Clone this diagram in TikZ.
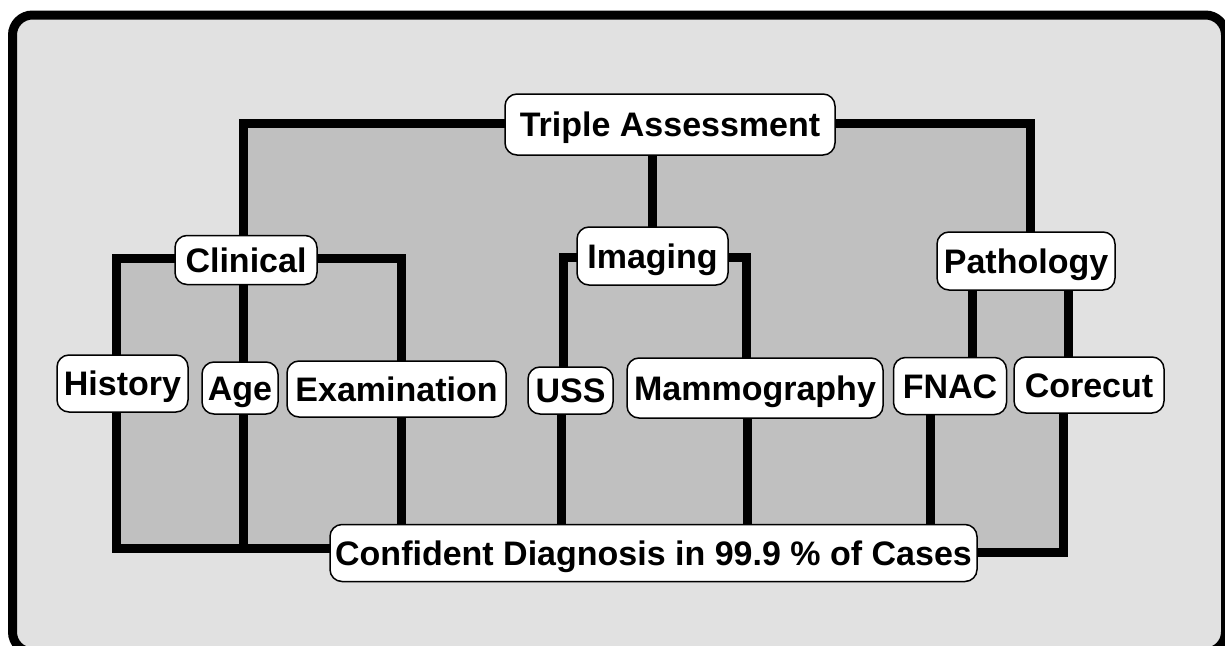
\documentclass[tikz,border=0pt]{standalone}
\usepackage{fontspec}
\setmainfont{Liberation Sans}
\pgfdeclarelayer{background}
\pgfsetlayers{background,main}
\definecolor{bglight}{HTML}{E1E1E1}
\definecolor{bgdark}{HTML}{C0C0C0}
\tikzset{
  box/.style={draw=black, fill=white, line width=1.5pt, rounded corners=12pt,
    inner sep=0pt, text height=24.3pt, text depth=0pt,
    font=\fontsize{34}{40}\selectfont\bfseries},
  conn/.style={draw=black, line width=9pt, line join=miter}
}
\begin{document}
\begin{tikzpicture}[x=1pt,y=-1pt]
\useasboundingbox (0,0) rectangle (1225,645);
\clip (0,0) rectangle (1225,645);
% nodes
\node[box, minimum width=330pt, minimum height=61pt] (triple) at (670,124.5) {Triple Assessment};
\node[box, minimum width=142pt, minimum height=49pt] (clin) at (246,260) {Clinical};
\node[box, minimum width=151pt, minimum height=58pt] (imag) at (652.5,256) {Imaging};
\node[box, minimum width=178pt, minimum height=58pt] (path) at (1026,261) {Pathology};
\node[box, minimum width=131pt, minimum height=57pt] (hist) at (122.5,383.5) {History};
\node[box, minimum width=76pt, minimum height=52pt] (age) at (240,388) {Age};
\node[box, minimum width=219pt, minimum height=56pt] (exam) at (396.5,389) {Examination};
\node[box, minimum width=85pt, minimum height=47pt] (uss) at (570.5,390.5) {USS};
\node[box, minimum width=256pt, minimum height=60pt] (mam) at (755,388) {Mammography};
\node[box, minimum width=113pt, minimum height=57pt] (fnac) at (950,386) {FNAC};
\node[box, minimum width=150pt, minimum height=56pt] (core) at (1089,385) {Corecut};
\node[box, minimum width=647pt, minimum height=57pt] (conf) at (653.5,553) {Confident Diagnosis in 99.9 \% of Cases};
\begin{pgfonlayer}{background}
  \draw[line width=9pt, fill=bglight, rounded corners=20pt] (12.5,15) rectangle (1225.5,652);
  \fill[bgdark] (243,123) -- (1030,123) -- (1030,261) -- (1068,261) -- (1068,385)
     -- (1063,385) -- (1063,552) -- (700,552) -- (700,548) -- (116,548) -- (116,258)
     -- (243,258) -- cycle;
  % top level
  \draw[conn] (243,0 |- clin) -- (243,123) -- (triple |- 0,123);
  \draw[conn] (triple |- 0,123) -- (1030,123) -- (1030,0 |- path);
  \draw[conn] (652,0 |- triple) -- (652,0 |- imag);
  % clinical
  \draw[conn] (116,0 |- hist) -- (116,258) -- (clin |- 0,258);
  \draw[conn] (clin |- 0,258) -- (401,258) -- (401,0 |- exam);
  \draw[conn] (243,0 |- clin) -- (243,0 |- age);
  % imaging
  \draw[conn] (563,0 |- uss) -- (563,257) -- (imag |- 0,257);
  \draw[conn] (imag |- 0,257) -- (746,257) -- (746,0 |- mam);
  % pathology
  \draw[conn] (972,0 |- path) -- (972,0 |- fnac);
  \draw[conn] (1068,0 |- path) -- (1068,0 |- core);
  % to diagnosis
  \draw[conn] (116,0 |- hist) -- (116,548) -- (conf |- 0,548);
  \draw[conn] (243,0 |- age) -- (243,548);
  \draw[conn] (401,0 |- exam) -- (401,0 |- conf);
  \draw[conn] (561,0 |- uss) -- (561,0 |- conf);
  \draw[conn] (747,0 |- mam) -- (747,0 |- conf);
  \draw[conn] (930,0 |- fnac) -- (930,0 |- conf);
  \draw[conn] (1063,0 |- core) -- (1063,552) -- (conf |- 0,552);
\end{pgfonlayer}
\end{tikzpicture}
\end{document}
